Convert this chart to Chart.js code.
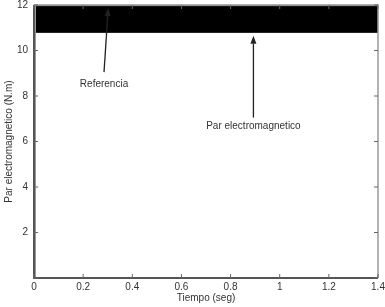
<!DOCTYPE html>
<html>
<head>
<meta charset="utf-8">
<script src="https://cdn.jsdelivr.net/npm/chart.js@4"></script>
<style>
  html, body { margin: 0; padding: 0; background: #fff; }
  #wrap { width: 385px; height: 307px; }
</style>
</head>
<body>
<div id="wrap"><canvas id="parChart"></canvas></div>
<script>
// datos
var tiempoBanda = [0.008, 1.4];
var parSuperior = [11.95, 11.95];
var parInferior = [10.8, 10.8];
var tiempoRef = [0, 1.4];
var referencia = [12, 12];
var tiempoArranque = [0.002, 0.002, 0.002];
var parArranque = [0, 9.2, 12];
var ticksX = [0, 0.2, 0.4, 0.6, 0.8, 1, 1.2, 1.4];
var ticksY = [0, 2, 4, 6, 8, 10, 12];

// anotaciones (texto, punto del texto, inicio y punta de la flecha en unidades de datos)
var notas = [
  { texto: 'Referencia', tx: 0.285, ty: 8.5, x0: 0.285, y0: 9.05, x1: 0.302, y1: 11.87 },
  { texto: 'Par electromagnetico', tx: 0.893, ty: 6.66, x0: 0.893, y0: 7.05, x1: 0.893, y1: 10.65 }
];

function pares(xs, ys) {
  return xs.map(function (x, i) { return { x: x, y: ys[i] }; });
}

var fuente = { family: 'Liberation Sans, Arial, sans-serif', size: 10 };

var ejesPlugin = {
  id: 'ejesMatlab',
  afterDatasetsDraw: function (chart) {
    var ctx = chart.ctx, a = chart.chartArea;
    var sx = chart.scales.x, sy = chart.scales.y;
    ctx.save();
    // caja
    ctx.strokeStyle = '#999';
    ctx.lineWidth = 1.5;
    ctx.beginPath();
    ctx.moveTo(a.left, a.top); ctx.lineTo(a.right, a.top); ctx.lineTo(a.right, a.bottom);
    ctx.stroke();
    ctx.strokeStyle = '#555';
    ctx.lineWidth = 2;
    ctx.beginPath();
    ctx.moveTo(a.left, a.top); ctx.lineTo(a.left, a.bottom); ctx.lineTo(a.right, a.bottom);
    ctx.stroke();
    // marcas hacia adentro
    ctx.lineWidth = 1;
    ctx.strokeStyle = '#666';
    ctx.beginPath();
    ticksX.forEach(function (v) {
      var px = sx.getPixelForValue(v);
      ctx.moveTo(px, a.bottom); ctx.lineTo(px, a.bottom - 4);
      ctx.moveTo(px, a.top); ctx.lineTo(px, a.top + 4);
    });
    ticksY.forEach(function (v) {
      var py = sy.getPixelForValue(v);
      ctx.moveTo(a.left, py); ctx.lineTo(a.left + 4, py);
      ctx.moveTo(a.right, py); ctx.lineTo(a.right - 4, py);
    });
    ctx.stroke();
    // flechas y textos
    ctx.font = fuente.size + 'px ' + fuente.family;
    ctx.textAlign = 'center';
    ctx.textBaseline = 'middle';
    notas.forEach(function (n) {
      var x0 = sx.getPixelForValue(n.x0), y0 = sy.getPixelForValue(n.y0);
      var x1 = sx.getPixelForValue(n.x1), y1 = sy.getPixelForValue(n.y1);
      var ang = Math.atan2(y1 - y0, x1 - x0);
      var largo = 8, ancho = 3;
      ctx.strokeStyle = '#222';
      ctx.lineWidth = 1.3;
      ctx.beginPath();
      ctx.moveTo(x0, y0);
      ctx.lineTo(x1 - Math.cos(ang) * largo, y1 - Math.sin(ang) * largo);
      ctx.stroke();
      ctx.fillStyle = '#222';
      ctx.beginPath();
      ctx.moveTo(x1, y1);
      ctx.lineTo(x1 - Math.cos(ang) * largo - Math.sin(ang) * ancho, y1 - Math.sin(ang) * largo + Math.cos(ang) * ancho);
      ctx.lineTo(x1 - Math.cos(ang) * largo + Math.sin(ang) * ancho, y1 - Math.sin(ang) * largo - Math.cos(ang) * ancho);
      ctx.closePath();
      ctx.fill();
      ctx.fillStyle = '#333';
      ctx.fillText(n.texto, sx.getPixelForValue(n.tx), sy.getPixelForValue(n.ty));
    });
    ctx.restore();
  }
};

new Chart(document.getElementById('parChart'), {
  type: 'line',
  data: {
    datasets: [
      {
        label: 'Par superior',
        data: pares(tiempoBanda, parSuperior),
        borderColor: '#000', borderWidth: 1, pointRadius: 0, fill: false
      },
      {
        label: 'Par inferior',
        data: pares(tiempoBanda, parInferior),
        borderColor: '#000', borderWidth: 1, pointRadius: 0,
        fill: '-1', backgroundColor: '#000'
      },
      {
        label: 'Referencia',
        data: pares(tiempoRef, referencia),
        borderColor: '#aaa', borderWidth: 1.5, pointRadius: 0, fill: false
      },
      {
        label: 'Arranque',
        data: pares(tiempoArranque, parArranque),
        borderColor: '#999', borderWidth: 3, pointRadius: 0, fill: false
      }
    ]
  },
  options: {
    responsive: true,
    maintainAspectRatio: false,
    animation: false,
    layout: { padding: { top: 5, right: 7, left: 0, bottom: 0 } },
    plugins: { legend: { display: false }, tooltip: { enabled: false } },
    scales: {
      x: {
        type: 'linear', min: 0, max: 1.4,
        afterBuildTicks: function (s) { s.ticks = ticksX.map(function (v) { return { value: v }; }); },
        afterFit: function (s) { s.height = 29; s.paddingLeft = 0; s.paddingRight = 0; },
        grid: { display: false, drawTicks: false },
        border: { display: false },
        ticks: {
          color: '#333', font: fuente, padding: 3, maxRotation: 0, autoSkip: false,
          callback: function (v) { return String(Math.round(v * 10) / 10); }
        },
        title: { display: true, text: 'Tiempo (seg)', color: '#333', font: fuente, padding: { top: 0, bottom: 3 } }
      },
      y: {
        type: 'linear', min: 0, max: 12,
        afterBuildTicks: function (s) { s.ticks = ticksY.map(function (v) { return { value: v }; }); },
        afterFit: function (s) { s.width = 34; s.paddingTop = 0; s.paddingBottom = 0; },
        grid: { display: false, drawTicks: false },
        border: { display: false },
        ticks: {
          color: '#333', font: fuente, padding: 6, autoSkip: false,
          callback: function (v) { return v === 0 ? '' : String(v); }
        },
        title: { display: true, text: 'Par electromagnetico (N.m)', color: '#333', font: fuente, padding: { top: 3, bottom: 0 } }
      }
    }
  },
  plugins: [ejesPlugin]
});
</script>
</body>
</html>
